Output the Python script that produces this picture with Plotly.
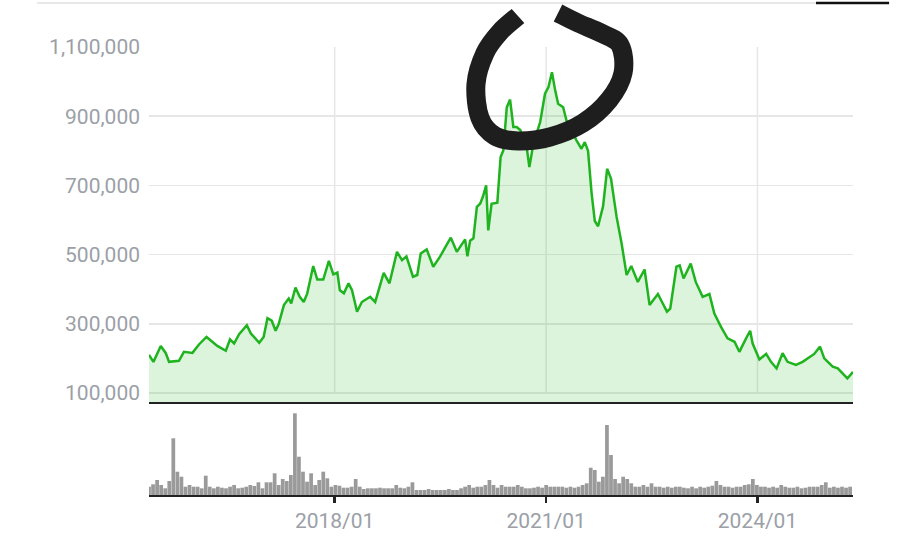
import plotly.graph_objects as go
import pandas as pd

# ---------------- data ----------------
price_dates = [
    "2015-05-15", "2015-06-07", "2015-07-15", "2015-08-10", "2015-08-27", "2015-10-17", "2015-11-12",
    "2015-12-26", "2016-01-30", "2016-03-08", "2016-04-07", "2016-05-03", "2016-06-16", "2016-07-08",
    "2016-07-29", "2016-08-24", "2016-10-03", "2016-10-24", "2016-12-06", "2016-12-29", "2017-01-18",
    "2017-02-09", "2017-03-01", "2017-03-17", "2017-04-13", "2017-05-08", "2017-05-21", "2017-06-12",
    "2017-07-04", "2017-07-25", "2017-08-12", "2017-09-12", "2017-10-03", "2017-11-03", "2017-12-02",
    "2017-12-25", "2018-01-15", "2018-01-28", "2018-02-18", "2018-03-14", "2018-04-01", "2018-04-27",
    "2018-05-22", "2018-07-04", "2018-07-30", "2018-09-12", "2018-10-12", "2018-11-20", "2018-12-16",
    "2019-01-08", "2019-02-11", "2019-03-05", "2019-03-23", "2019-04-23", "2019-05-27", "2019-07-01",
    "2019-08-05", "2019-08-26", "2019-09-26", "2019-11-08", "2019-11-20", "2019-12-04", "2019-12-21",
    "2020-01-08", "2020-01-25", "2020-02-08", "2020-02-25", "2020-03-07", "2020-03-24", "2020-04-23",
    "2020-05-10", "2020-05-24", "2020-06-11", "2020-06-28", "2020-07-15", "2020-08-01", "2020-08-20",
    "2020-09-22", "2020-10-06", "2020-10-27", "2020-12-01", "2020-12-26", "2021-01-13", "2021-01-31",
    "2021-02-17", "2021-03-04", "2021-03-30", "2021-04-16", "2021-06-07", "2021-07-03", "2021-07-20",
    "2021-08-06", "2021-08-24", "2021-09-10", "2021-09-27", "2021-10-23", "2021-11-13", "2021-12-03",
    "2022-01-01", "2022-01-27", "2022-02-22", "2022-03-18", "2022-04-21", "2022-05-26", "2022-06-21",
    "2022-08-03", "2022-09-19", "2022-10-06", "2022-11-07", "2022-11-24", "2022-12-14", "2023-01-20",
    "2023-02-15", "2023-03-23", "2023-04-27", "2023-05-22", "2023-06-26", "2023-07-30", "2023-09-04",
    "2023-09-29", "2023-11-03", "2023-11-24", "2023-12-07", "2024-01-11", "2024-02-15", "2024-03-11",
    "2024-04-09", "2024-05-10", "2024-06-05", "2024-07-18", "2024-08-22", "2024-09-26", "2024-10-21",
    "2024-11-20", "2024-12-12", "2025-01-25", "2025-02-20", "2025-04-11", "2025-05-10",
]
price_values = [
    210000, 190000, 236000, 215000, 190000, 193000, 219000,
    216000, 241000, 262000, 248000, 236000, 222000, 255000,
    243000, 270000, 296000, 272000, 245000, 262000, 316000,
    309000, 280000, 299000, 354000, 373000, 359000, 405000,
    378000, 363000, 388000, 467000, 428000, 428000, 482000,
    443000, 448000, 397000, 388000, 417000, 397000, 335000,
    363000, 378000, 363000, 447000, 417000, 508000, 484000,
    495000, 436000, 441000, 503000, 515000, 465000, 494000,
    529000, 549000, 508000, 544000, 495000, 540000, 547000,
    638000, 647000, 667000, 700000, 570000, 647000, 650000,
    782000, 801000, 926000, 948000, 869000, 869000, 860000,
    811000, 753000, 821000, 883000, 965000, 984000, 1027000,
    974000, 936000, 926000, 888000, 830000, 806000, 825000,
    800000, 680000, 597000, 582000, 640000, 748000, 720000,
    609000, 532000, 441000, 467000, 421000, 457000, 354000,
    386000, 335000, 344000, 465000, 469000, 431000, 474000,
    421000, 378000, 386000, 330000, 291000, 258000, 248000,
    219000, 258000, 280000, 243000, 197000, 213000, 190000,
    171000, 215000, 190000, 181000, 190000, 205000, 213000,
    234000, 200000, 176000, 171000, 142000, 161000,
]

volume_start = "2015-05-15"
volume_step = "21D"
volume_values = [  # thousand shares
    83, 107, 150, 100, 67, 140, 567, 233, 183, 83,
    100, 83, 83, 67, 193, 83, 67, 83, 73, 67,
    83, 100, 67, 73, 83, 100, 90, 127, 67, 127,
    127, 217, 100, 160, 140, 200, 817, 383, 233, 133,
    217, 100, 150, 233, 167, 83, 100, 93, 73, 73,
    83, 160, 83, 60, 67, 67, 67, 73, 67, 67,
    67, 100, 73, 67, 83, 127, 50, 50, 50, 60,
    50, 50, 50, 50, 60, 50, 50, 67, 83, 100,
    73, 83, 83, 100, 150, 100, 73, 100, 83, 83,
    83, 100, 83, 67, 67, 73, 83, 73, 100, 83,
    83, 83, 83, 73, 83, 73, 83, 100, 117, 273,
    250, 133, 183, 700, 400, 160, 117, 183, 160, 117,
    83, 83, 100, 83, 117, 83, 83, 73, 83, 73,
    83, 83, 73, 67, 83, 67, 83, 73, 83, 93,
    140, 100, 83, 83, 73, 83, 83, 100, 107, 160,
    100, 83, 83, 73, 83, 73, 100, 83, 73, 73,
    83, 67, 73, 83, 83, 83, 100, 127, 73, 83,
    73, 83, 73, 83,
]

x_tick_dates = ["2018-01-01", "2021-01-01", "2024-01-01"]
x_tick_labels = ["2018/01", "2021/01", "2024/01"]
y_tick_values = [100000, 300000, 500000, 700000, 900000, 1100000]
y_tick_labels = ["100,000", "300,000", "500,000", "700,000", "900,000", "1,100,000"]

x_range = ["2015-05-15", "2025-05-10"]
price_range = [74000, 1100000]

# ---------------- figure ----------------
W, H = 900, 559
ML, MR, MT, MB = 149, 47, 0, 64
PW, PH = W - ML - MR, H - MT - MB

def px_to_paper(px, py):
    return (px - ML) / PW, (H - MB - py) / PH

volume_dates = pd.date_range(volume_start, periods=len(volume_values), freq=volume_step)

fig = go.Figure()
fig.add_trace(go.Scatter(
    x=price_dates, y=price_values, mode="lines",
    line=dict(color="#1fb41f", width=2.5),
    fill="tozeroy", fillcolor="rgba(40,190,40,0.17)",
    xaxis="x", yaxis="y", hoverinfo="skip",
))
fig.add_trace(go.Bar(
    x=volume_dates, y=volume_values,
    marker=dict(color="#9a9a9a", line=dict(width=0)),
    xaxis="x2", yaxis="y2", hoverinfo="skip",
))

grid = "#e6e6e6"
shapes = []
for d in x_tick_dates:
    shapes.append(dict(type="line", xref="x", yref="y", x0=d, x1=d,
                       y0=y_tick_values[0], y1=y_tick_values[-1],
                       line=dict(color=grid, width=1.5), layer="below"))

# page decorations: top separator line and short dark bar
x0p, y0p = px_to_paper(37, 3)
x1p, _ = px_to_paper(890, 3)
shapes.append(dict(type="line", xref="paper", yref="paper", x0=x0p, x1=x1p, y0=y0p, y1=y0p,
                   line=dict(color="#e8e8e8", width=2)))
xa, _ = px_to_paper(816, 3)
xb, _ = px_to_paper(889, 3)
shapes.append(dict(type="line", xref="paper", yref="paper", x0=xa, x1=xb, y0=y0p, y1=y0p,
                   line=dict(color="#111111", width=2.5)))

# hand-drawn circle annotation
circle_px = [(518, 16), (500, 32), (485, 53), (476, 84), (480, 118), (495, 136), (518, 141),
             (550, 137), (583, 123), (609, 100), (623, 73), (620, 45), (601, 33), (578, 23), (558, 13)]

def smooth_path(pts):
    P = [px_to_paper(*p) for p in pts]
    s = "M {:.5f},{:.5f}".format(*P[0])
    for i in range(len(pts) - 1):
        p0 = pts[i - 1] if i > 0 else pts[i]
        p1 = pts[i]
        p2 = pts[i + 1]
        p3 = pts[i + 2] if i + 2 < len(pts) else pts[i + 1]
        c1 = (p1[0] + (p2[0] - p0[0]) / 6, p1[1] + (p2[1] - p0[1]) / 6)
        c2 = (p2[0] - (p3[0] - p1[0]) / 6, p2[1] - (p3[1] - p1[1]) / 6)
        a = px_to_paper(*c1); b = px_to_paper(*c2); c = px_to_paper(*p2)
        s += " C {:.5f},{:.5f} {:.5f},{:.5f} {:.5f},{:.5f}".format(a[0], a[1], b[0], b[1], c[0], c[1])
    return s

shapes.append(dict(type="path", xref="paper", yref="paper", path=smooth_path(circle_px),
                   line=dict(color="#1e1e1e", width=19)))

label_font = dict(family="Roboto, sans-serif", size=21, color="#9ba0a7")

fig.update_layout(
    width=W, height=H, autosize=False,
    margin=dict(l=ML, r=MR, t=MT, b=MB, pad=0, autoexpand=False),
    paper_bgcolor="white", plot_bgcolor="white",
    showlegend=False, bargap=0.08,
    font=dict(family="Roboto, sans-serif", color="#9ba0a7"),
    xaxis=dict(domain=[0, 1], anchor="y", range=x_range, type="date",
               showgrid=False, showticklabels=False, zeroline=False, automargin=False,
               showline=True, linecolor="#222222", linewidth=2, ticks=""),
    yaxis=dict(domain=[(H - MB - 402) / PH, (H - MB - 47) / PH], anchor="x",
               range=price_range, tickvals=y_tick_values, ticktext=y_tick_labels,
               showgrid=True, gridcolor=grid, gridwidth=1.5, zeroline=False, automargin=False,
               showline=False, ticks="", ticklabelstandoff=8, tickfont=label_font),
    xaxis2=dict(domain=[0, 1], anchor="y2", range=x_range, type="date", matches="x",
                showgrid=False, zeroline=False, automargin=False,
                tickvals=x_tick_dates, ticktext=x_tick_labels,
                ticks="outside", ticklen=6, tickwidth=2.5, tickcolor="#222222",
                showline=True, linecolor="#222222", linewidth=2, tickfont=label_font),
    yaxis2=dict(domain=[0, (H - MB - 413) / PH], anchor="x2", range=[0, 820],
                visible=False, showgrid=False, zeroline=False),
    shapes=shapes,
)

fig.write_html("out.html", config={"displayModeBar": False, "staticPlot": True},
               post_script="document.body.style.margin='0';document.body.style.overflow='hidden';")
